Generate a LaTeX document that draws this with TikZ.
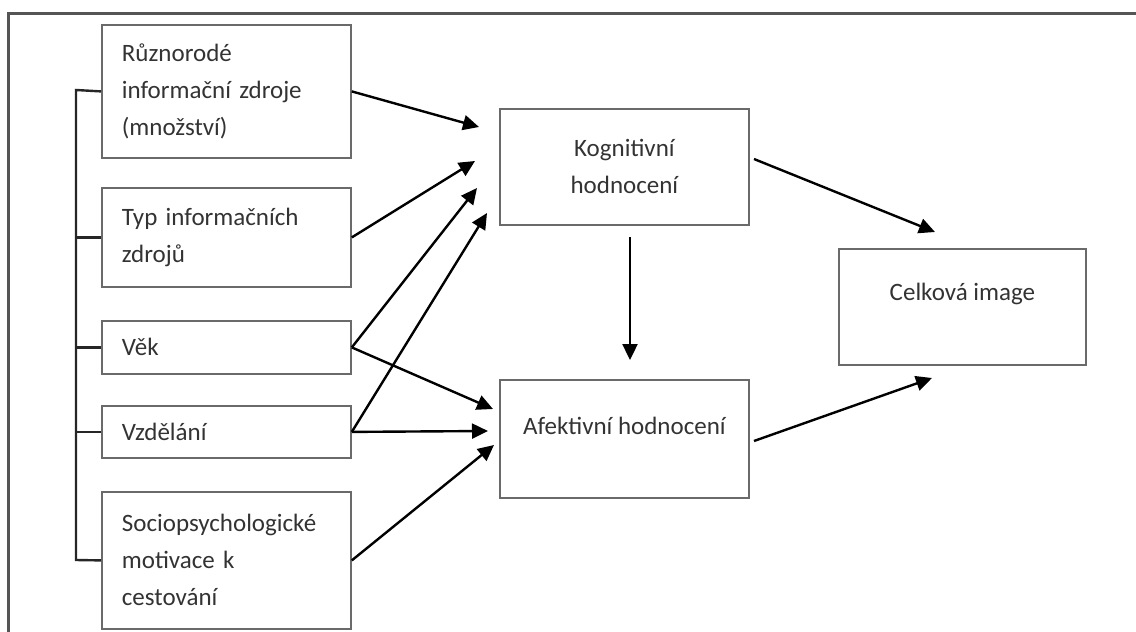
\documentclass[tikz,border=0pt]{standalone}
\usepackage{fontspec}
\setmainfont{Carlito}
\usetikzlibrary{arrows.meta}
\definecolor{boxgray}{HTML}{6A6A6A}
\definecolor{txtgray}{HTML}{333333}
\definecolor{framegray}{HTML}{555555}
\begin{document}
\begin{tikzpicture}[x=1pt,y=-1pt,
  every node/.style={font=\fontsize{25}{37}\selectfont, text=txtgray},
  src/.style={draw=boxgray, line width=1.8pt, minimum width=249pt, inner xsep=20pt,
    text width=209pt, align=left, anchor=north west},
  mid/.style={draw=boxgray, line width=1.8pt, minimum width=249pt, align=center, anchor=north west},
  arr/.style={line width=2.4pt, -{Triangle[length=16pt,width=15pt]}},
  brk/.style={line width=2.4pt, draw=black!85}]
\useasboundingbox (0,0) rectangle (1136,632);
% outer frame (partial)
\draw[framegray, line width=3pt] (8,632) -- (8,13) -- (1136,13);
% source boxes
\node[src, minimum height=133pt] (b1) at (101,24) {Různorodé\\informační zdroje\\(množství)};
\node[src, minimum height=99pt] (b2) at (101,187) {Typ informačních\\zdrojů};
\node[src, minimum height=53pt] (b3) at (101,320) {Věk};
\node[src, minimum height=52pt] (b4) at (101,405) {Vzdělání};
\node[src, minimum height=137pt] (b5) at (101,491) {Sociopsychologické\\motivace k\\cestování};
% middle boxes
\node[mid, minimum height=116pt] (kog) at (499,108) {Kognitivní\\hodnocení};
\node[mid, minimum height=118pt, label={[yshift=13pt]center:Afektivní hodnocení}] (afe) at (499,379) {};
\node[mid, minimum width=247pt, minimum height=116pt, label={[yshift=13pt]center:Celková image}] (cel) at (838,248) {};
% bracket
\coordinate (bt) at (76,90);
\coordinate (bb) at (76,560);
\draw[brk] (b1.west) -- (bt) -- (bb) -- (b5.west);
\draw[brk] (b2.west) -- (b2.west -| bt);
\draw[brk] (b3.west) -- (b3.west -| bt);
\draw[brk] (b4.west) -- (b4.west -| bt);
% arrow end points
\coordinate (k1) at (479,127);
\coordinate (k2) at (475,161);
\coordinate (k3) at (477,188);
\coordinate (k4) at (487,213);
\coordinate (a1) at (493,409);
\coordinate (a2) at (488,431);
\coordinate (a3) at (494,445);
\coordinate (kd) at (630,237);
\coordinate (ad) at (630,360);
\coordinate (ks) at (754,159);
\coordinate (ce1) at (935,232);
\coordinate (as) at (754,441);
\coordinate (ce2) at (932,378);
% arrows
\draw[arr] (b1.east) -- (k1);
\draw[arr] (b2.east) -- (k2);
\draw[arr] (b3.east) -- (k3);
\draw[arr] (b4.east) -- (k4);
\draw[arr] (b3.east) -- (a1);
\draw[arr] (b4.east) -- (a2);
\draw[arr] (b5.east) -- (a3);
\draw[arr] (kd) -- (ad);
\draw[arr] (ks) -- (ce1);
\draw[arr] (as) -- (ce2);
\end{tikzpicture}
\end{document}
